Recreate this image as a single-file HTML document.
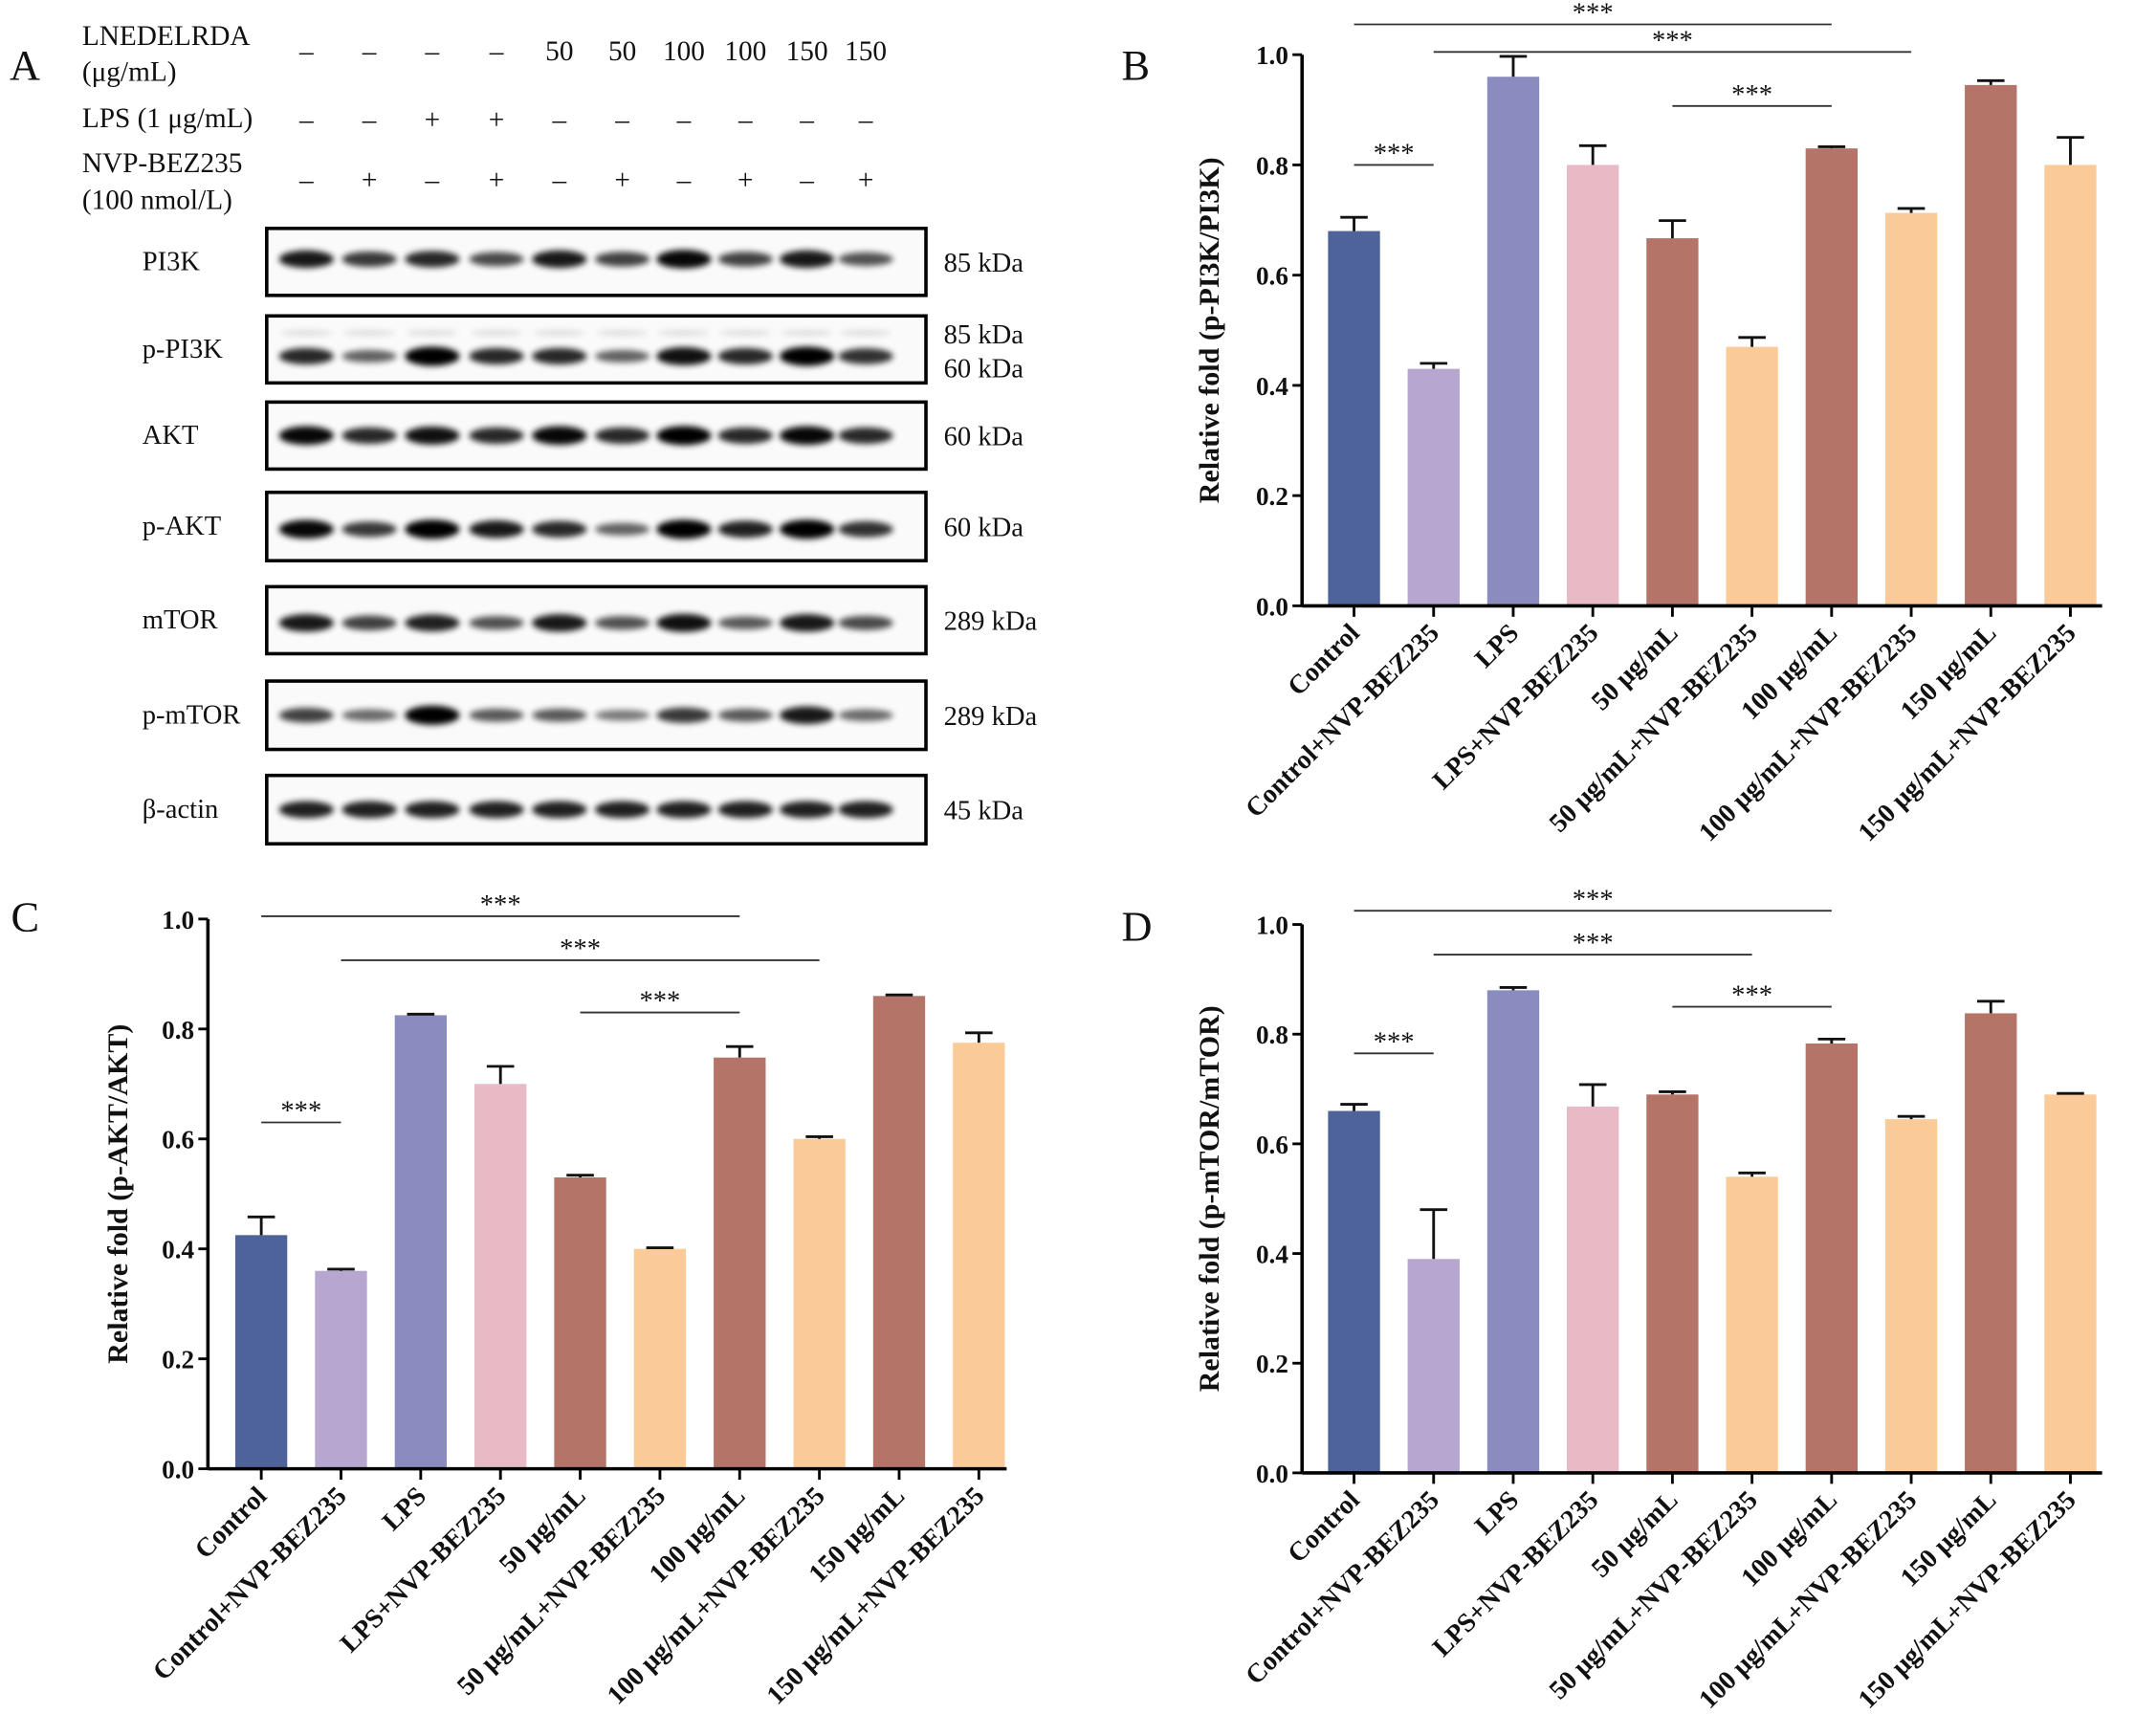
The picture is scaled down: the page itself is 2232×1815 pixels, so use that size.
<!DOCTYPE html>
<html><head><meta charset="utf-8">
<style>
html,body{margin:0;padding:0;background:#fff;}
svg{display:block;}
text{font-family:"Liberation Serif",serif;fill:#111;}
</style></head>
<body>
<svg id="fig" width="2232" height="1815" viewBox="0 0 1561 1269.4" xmlns="http://www.w3.org/2000/svg">
<defs>
<filter id="blur" x="-20%" y="-100%" width="140%" height="300%"><feGaussianBlur stdDeviation="2.2"/></filter>
</defs>
<g id="panelA"></g>
<g id="panelB"></g>
<g id="panelC"></g>
<g id="panelD"></g>
</svg>
<script>
// ---------- chart data ----------
const categories = ["Control","Control+NVP-BEZ235","LPS","LPS+NVP-BEZ235","50 μg/mL","50 μg/mL+NVP-BEZ235","100 μg/mL","100 μg/mL+NVP-BEZ235","150 μg/mL","150 μg/mL+NVP-BEZ235"];
const barColors = ["#4E6399","#B7A6CF","#8A8BBE","#E8BAC5","#B57468","#FACB98","#B57468","#FACB98","#B57468","#FACB98"];
const yTicks = [0.0,0.2,0.4,0.6,0.8,1.0];
const pi3kValues = [0.68,0.43,0.96,0.80,0.667,0.47,0.83,0.713,0.945,0.80];
const pi3kErrors = [0.025,0.01,0.037,0.035,0.032,0.017,0.003,0.008,0.008,0.05];
const aktValues = [0.425,0.36,0.825,0.70,0.53,0.40,0.748,0.60,0.86,0.775];
const aktErrors = [0.033,0.003,0.002,0.032,0.004,0.002,0.02,0.004,0.002,0.018];
const mtorValues = [0.66,0.39,0.88,0.668,0.69,0.54,0.783,0.645,0.838,0.69];
const mtorErrors = [0.012,0.09,0.005,0.04,0.005,0.007,0.008,0.005,0.022,0.002];
// significance brackets: [fromIndex, toIndex, yValue]
const pi3kSig = [[0,6,1.055],[1,7,1.005],[4,6,0.907],[0,1,0.80]];
const aktSig = [[0,6,1.005],[1,7,0.925],[4,6,0.83],[0,1,0.63]];
const mtorSig = [[0,6,1.025],[1,5,0.945],[4,6,0.85],[0,1,0.765]];

// ---------- blot data ----------
const lanes = ["1","2","3","4","5","6","7","8","9","10"];
const rowLNE = ["-","-","-","-","50","50","100","100","150","150"];
const rowLPS = ["-","-","+","+","-","-","-","-","-","-"];
const rowNVP = ["-","+","-","+","-","+","-","+","-","+"];
const blotNames = ["PI3K","p-PI3K","AKT","p-AKT","mTOR","p-mTOR","β-actin"];
const blotKda = ["85 kDa","60 kDa","60 kDa","60 kDa","289 kDa","289 kDa","45 kDa"];
const intPI3K = [0.85,0.65,0.75,0.55,0.85,0.6,0.95,0.6,0.85,0.5];
const intPPI3K = [0.75,0.4,1.0,0.75,0.75,0.4,0.9,0.75,1.0,0.7];
const intAKT = [0.95,0.75,0.9,0.75,0.95,0.75,1.0,0.75,0.95,0.75];
const intPAKT = [0.95,0.65,1.0,0.85,0.75,0.4,1.0,0.8,1.0,0.7];
const intMTOR = [0.85,0.6,0.8,0.5,0.85,0.5,0.9,0.45,0.85,0.55];
const intPMTOR = [0.6,0.35,1.0,0.45,0.45,0.25,0.65,0.45,0.85,0.35];
const intACTIN = [0.8,0.8,0.8,0.8,0.8,0.8,0.8,0.8,0.8,0.8];
const blotIntensities = [intPI3K,intPPI3K,intAKT,intPAKT,intMTOR,intPMTOR,intACTIN];

const NS="http://www.w3.org/2000/svg";
function mk(tag,attrs,parent,txt){const e=document.createElementNS(NS,tag);for(const k in attrs)e.setAttribute(k,attrs[k]);if(txt!==undefined)e.textContent=txt;parent.appendChild(e);return e;}

// ---------- Panel A ----------
const A=document.getElementById('panelA');
let t;
t=mk('text',{x:7,y:58,'font-size':31},A,'A');


const hdr=[["LNEDELRDA",33],["(μg/mL)",59],["LPS (1 μg/mL)",93],["NVP-BEZ235",126],["(100 nmol/L)",153]];
hdr.forEach(h=>{const e=mk('text',{x:60,y:h[1],'font-size':20.5},A,h[0]);

});
const laneX=[224,270,316,363,409,455,500,545,590,633];
[[rowLNE,44],[rowLPS,94],[rowNVP,138]].forEach(r=>{
 r[0].forEach((v,i)=>{const e=mk('text',{x:laneX[i],y:r[1],'font-size':20.5,'text-anchor':'middle'},A,v==='-'?'–':v);
 
 });
});
const rowsY=[[167,216],[231,280],[294,343],[360,410],[429,478],[498,548],[567,617]];
const bandOff=[-2,5,0,2,2,0,0];
rowsY.forEach((ry,ri)=>{
 const g=mk('g',{},A);
 
 
 mk('rect',{x:195,y:ry[0],width:482,height:ry[1]-ry[0],fill:'#fafafa',stroke:'#000','stroke-width':2.5},g);
 const cy=(ry[0]+ry[1])/2+bandOff[ri];
 if(ri===1){ blotIntensities[ri].forEach((v,i)=>{mk('ellipse',{cx:laneX[i],cy:cy-17,rx:19,ry:2,fill:'#000',opacity:0.12,filter:'url(#blur)'},g);}); }
 blotIntensities[ri].forEach((v,i)=>{
  const b=mk('ellipse',{cx:laneX[i],cy:cy,rx:20,ry:3+4*v,fill:'#000',opacity:0.35+0.65*v,filter:'url(#blur)'},g);
  
  
 });
 const l=mk('text',{x:104,y:(ry[0]+ry[1])/2+6,'font-size':20},g,blotNames[ri]);
 
 
 if(ri===1){mk('text',{x:690,y:251,'font-size':20},g,'85 kDa');mk('text',{x:690,y:276,'font-size':20},g,'60 kDa');}
 else{const k=mk('text',{x:690,y:(ry[0]+ry[1])/2+7,'font-size':20},g,blotKda[ri]);
 
 }
});

// ---------- bar charts ----------
function chart(gid,letter,lx,ly,ax,y0,y1,x0,step,axEnd,ylabel,ylx,vals,errs,sig){
 const G=document.getElementById(gid);
 const yS=v=>y0-(y0-y1)*v;
 const xS=i=>x0+step*i;
 let e=mk('text',{x:lx,y:ly,'font-size':31},G,letter);
 
 
 const bw=38;
 vals.forEach((v,i)=>{
  const r=mk('rect',{x:xS(i)-bw/2,y:yS(v),width:bw,height:y0-yS(v),fill:barColors[i]},G);
  
  
  const ye=yS(v+errs[i]);
  const eb=mk('path',{d:`M${xS(i)} ${yS(v)}V${ye}M${xS(i)-10} ${ye}H${xS(i)+10}`,stroke:'#111','stroke-width':2,fill:'none'},G);
  
  
 });
 const ya=mk('path',{d:`M${ax} ${y0}V${yS(1)}`,stroke:'#000','stroke-width':2.5,fill:'none'},G);
 
 
 const xa=mk('path',{d:`M${ax} ${y0}H${axEnd}`,stroke:'#000','stroke-width':2.5,fill:'none'},G);
 
 
 yTicks.forEach(v=>{
  mk('path',{d:`M${ax-7} ${yS(v)}H${ax}`,stroke:'#000','stroke-width':2},G);
  const tl=mk('text',{x:ax-10,y:yS(v)+7,'font-size':19,'font-weight':'bold','text-anchor':'end'},G,v.toFixed(1));
  
  
 });
 categories.forEach((c,i)=>{
  mk('path',{d:`M${xS(i)} ${y0}V${y0+8}`,stroke:'#000','stroke-width':2},G);
  const cl=mk('text',{x:xS(i)+5,y:y0+21,'font-size':19.5,'font-weight':'bold','text-anchor':'end',transform:`rotate(-45 ${xS(i)+5} ${y0+21})`},G,c);
  
  
 });
 const yl=mk('text',{x:ylx,y:(y0+y1)/2,'font-size':21,'font-weight':'bold','text-anchor':'middle',transform:`rotate(-90 ${ylx} ${(y0+y1)/2})`},G,ylabel);
 
 
 sig.forEach(s=>{
  const y=yS(s[2]);
  const sl=mk('path',{d:`M${xS(s[0])} ${y}H${xS(s[1])}`,stroke:'#333','stroke-width':1.3},G);
  
  
  const st=mk('text',{x:(xS(s[0])+xS(s[1]))/2,y:y-2,'font-size':20,'text-anchor':'middle',fill:'#333'},G,'***');
  
  
 });
}
chart('panelB','B',820,58,952,443,40,990,58.2,1537,'Relative fold (p-PI3K/PI3K)',891,pi3kValues,pi3kErrors,pi3kSig);
chart('panelC','C',8,681,152,1074,672,191,58.3,736,'Relative fold (p-AKT/AKT)',93,aktValues,aktErrors,aktSig);
chart('panelD','D',820,688,952,1077,676,990,58.2,1537,'Relative fold (p-mTOR/mTOR)',891,mtorValues,mtorErrors,mtorSig);
</script>
</body></html>
